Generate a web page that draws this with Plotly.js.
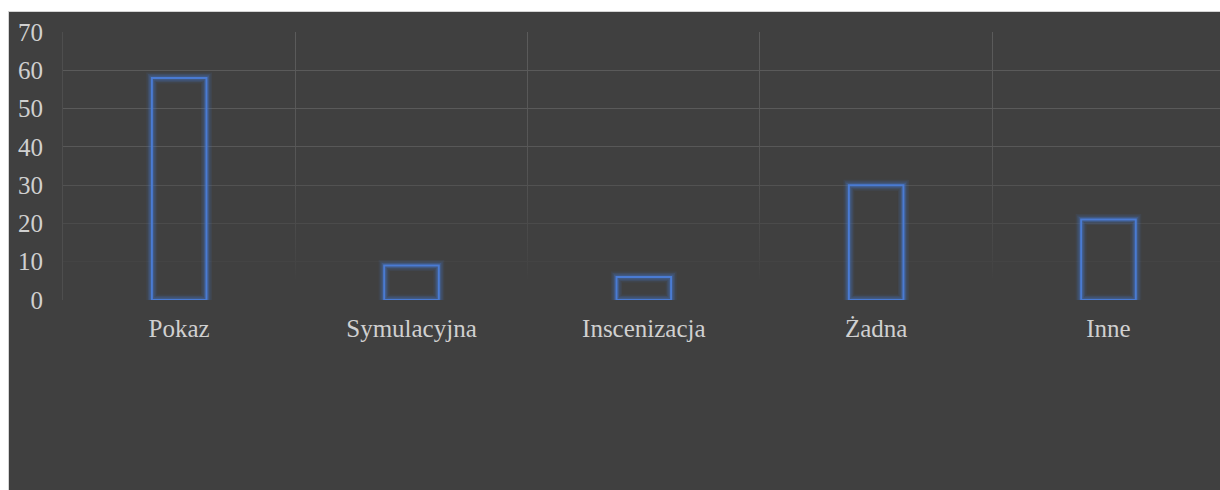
<!DOCTYPE html>
<html>
<head>
<meta charset="utf-8">
<script src="https://cdn.plot.ly/plotly-3.0.1.min.js"></script>
<style>
  html, body { margin: 0; padding: 0; background: #ffffff; }
  #chart {
    position: absolute; left: 8px; top: 11px;
    width: 1212px; height: 479px;
    border-left: 1px solid #d4d4d4; border-top: 1px solid #d4d4d4;
    box-sizing: border-box;
  }
</style>
</head>
<body>
<div id="chart"></div>
<script>
const categories = ["Pokaz", "Symulacyjna", "Inscenizacja", "Żadna", "Inne"];
const values = [58, 9, 6, 30, 21];
const yTicks = [0, 10, 20, 30, 40, 50, 60, 70];

const barW = 0.235;
function barTrace(lineW, color) {
  return {
    type: "bar", x: categories, y: values, width: barW,
    marker: { color: "rgba(0,0,0,0)", line: { width: lineW, color: color } },
    hoverinfo: "skip", showlegend: false
  };
}
const data = [
  barTrace(11, "rgba(68,114,196,0.10)"),
  barTrace(8, "rgba(68,114,196,0.18)"),
  barTrace(5, "rgba(68,114,196,0.32)"),
  barTrace(2, "#4a7bd3")
];

const fontFam = "'Liberation Serif', 'Times New Roman', serif";
const layout = {
  width: 1211, height: 478,
  margin: { l: 54, r: 0, t: 20, b: 190 },
  paper_bgcolor: "#404040", plot_bgcolor: "#404040",
  barmode: "overlay",
  font: { family: fontFam, size: 25, color: "#d0d0d0" },
  xaxis: {
    type: "category", range: [-0.5, 4.48],
    showgrid: true, tickson: "boundaries", gridcolor: "#555555", gridwidth: 1,
    ticks: "", showline: false, zeroline: false,
    ticklabelstandoff: 11,
    tickfont: { family: fontFam, size: 25, color: "#d0d0d0" }
  },
  yaxis: {
    range: [0, 70], tickvals: yTicks, ticktext: yTicks.map(String),
    showgrid: true, gridcolor: "#575757", gridwidth: 1,
    showline: true, linecolor: "#4e4e4e", linewidth: 1,
    zeroline: false, ticks: "",
    ticklabelstandoff: 14,
    tickfont: { family: fontFam, size: 25, color: "#d0d0d0" }
  }
};

Plotly.newPlot("chart", data, layout, { staticPlot: true }).then(function (gd) {
  const fs = gd._fullLayout;
  const ph = fs._size.h;
  const svg = gd.querySelector("svg.main-svg");
  const ns = "http://www.w3.org/2000/svg";
  let defs = svg.querySelector("defs");
  const grad = document.createElementNS(ns, "linearGradient");
  grad.setAttribute("id", "vfade");
  grad.setAttribute("gradientUnits", "userSpaceOnUse");
  grad.setAttribute("x1", "0"); grad.setAttribute("x2", "0");
  grad.setAttribute("y1", "0"); grad.setAttribute("y2", String(ph));
  [[0, "#5c5c5c"], [0.55, "#555555"], [0.95, "#444444"], [1, "#404040"]].forEach(function (s) {
    const st = document.createElementNS(ns, "stop");
    st.setAttribute("offset", s[0]); st.setAttribute("stop-color", s[1]);
    grad.appendChild(st);
  });
  defs.appendChild(grad);
  gd.querySelectorAll(".xgrid").forEach(function (p) { p.style.stroke = "url(#vfade)"; });
  const top = [0x5a, 0x5a, 0x5a], bg = [0x40, 0x40, 0x40];
  gd.querySelectorAll(".ygrid").forEach(function (p) {
    const tr = p.getAttribute("transform") || "";
    const m = tr.match(/translate\(\s*[-\d.]+\s*,\s*([-\d.]+)/);
    let y = m ? parseFloat(m[1]) : 0;
    const dm = (p.getAttribute("d") || "").match(/M[-\d.]+,([-\d.]+)/);
    if (dm) y += parseFloat(dm[1]);
    let f = y / ph;
    let k = Math.max(0, Math.min(1, (f - 0.45) / 0.55));
    k = Math.pow(k, 1.2);
    const c = top.map(function (v, i) { return Math.round(v + (bg[i] - v) * k); });
    p.style.stroke = "rgb(" + c.join(",") + ")";
  });
});
</script>
</body>
</html>
